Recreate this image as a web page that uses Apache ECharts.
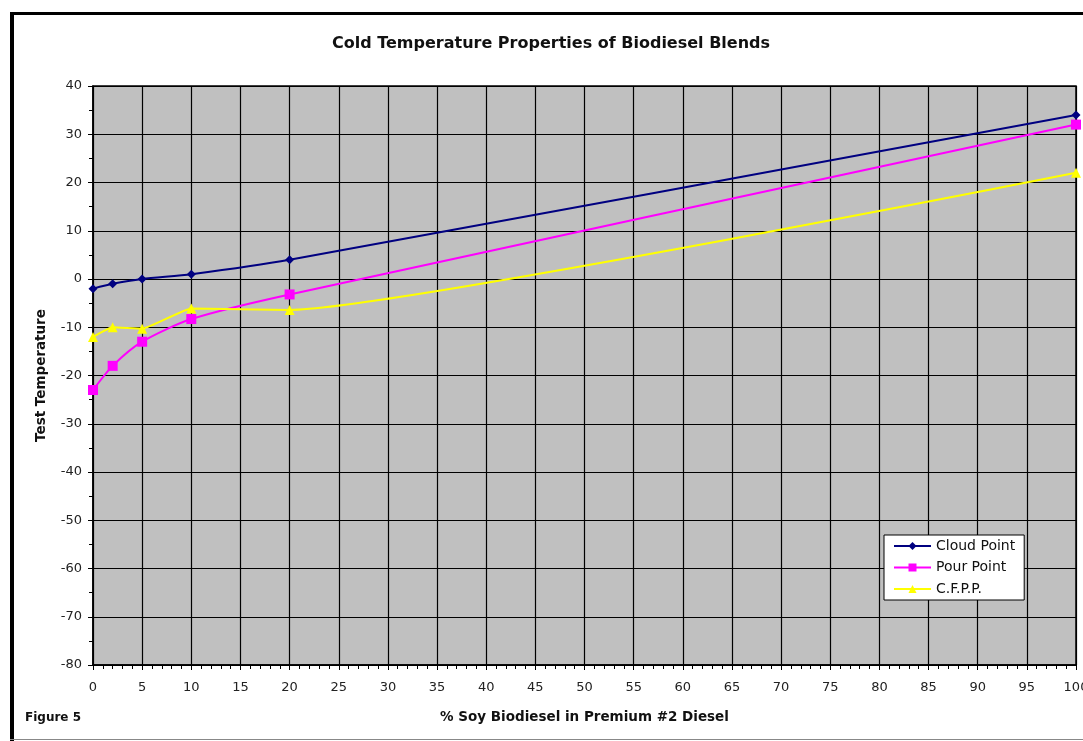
<!DOCTYPE html>
<html><head><meta charset="utf-8">
<script src="https://cdn.jsdelivr.net/npm/echarts@6/dist/echarts.min.js"></script>
<style>html,body{margin:0;padding:0;background:#fff;overflow:hidden}#c{width:1083px;height:741px}</style>
</head><body><div id="c"></div>
<script>
var xValues = [0, 2, 5, 10, 20, 100];
var cloudPoint = [-2, -1, 0, 1, 4, 34];
var pourPoint = [-23, -18, -13, -8.3, -3.2, 32];
var cfpp = [-12, -10, -10.3, -6.1, -6.4, 22];
var seriesNames = ['Cloud Point', 'Pour Point', 'C.F.P.P.'];
var titleText = 'Cold Temperature Properties of Biodiesel Blends';
var xName = '% Soy Biodiesel in Premium #2 Diesel';
var yName = 'Test Temperature';
var figureLabel = 'Figure 5';

function pairs(ys){ return xValues.map(function(x,i){ return [x, ys[i]]; }); }
var font = '"DejaVu Sans", Verdana, sans-serif';
var chart = echarts.init(document.getElementById('c'));
chart.setOption({
  animation: false,
  backgroundColor: '#fff',
  grid: { left: 93, right: 7, top: 86, bottom: 76, show: true, backgroundColor: '#c0c0c0',
    borderColor: '#000', borderWidth: 1.5, containLabel: false, outerBoundsMode: 'none' },
  legend: { orient: 'vertical', left: 884, top: 535, backgroundColor: '#fff', borderColor: '#000',
    borderWidth: 1, padding: [4, 9, 4, 9], itemGap: 7.5, itemWidth: 37, itemHeight: 10,
    textStyle: { fontFamily: font, fontSize: 14, lineHeight: 14, color: '#111' },
    data: seriesNames },
  xAxis: { type: 'value', min: 0, max: 100, interval: 5,
    name: xName, nameLocation: 'middle', nameGap: 45,
    nameTextStyle: { fontFamily: font, fontSize: 13.5, fontWeight: 'bold', color: '#111' },
    axisLine: { onZero: false, lineStyle: { color: '#000', width: 1.5 } },
    axisTick: { show: true, length: 5, lineStyle: { color: '#000' } },
    minorTick: { show: true, splitNumber: 5, length: 4, lineStyle: { color: '#000' } },
    axisLabel: { fontFamily: font, fontSize: 13, color: '#222', margin: 16 },
    splitLine: { show: true, lineStyle: { color: '#000', width: 1.2 } } },
  yAxis: { type: 'value', min: -80, max: 40, interval: 10,
    name: yName, nameLocation: 'middle', nameGap: 45, nameRotate: 90,
    nameTextStyle: { fontFamily: font, fontSize: 13.5, fontWeight: 'bold', color: '#111' },
    axisLine: { show: true, onZero: false, lineStyle: { color: '#000', width: 1.5 } },
    axisTick: { show: true, length: 5, lineStyle: { color: '#000' } },
    minorTick: { show: true, splitNumber: 2, length: 4, lineStyle: { color: '#000' } },
    axisLabel: { fontFamily: font, fontSize: 13, color: '#222', margin: 11 },
    splitLine: { show: true, lineStyle: { color: '#000', width: 1.2 } } },
  graphic: [
    { type: 'rect', shape: { x: 10, y: 12, width: 1090, height: 3 }, style: { fill: '#000' } },
    { type: 'rect', shape: { x: 10, y: 12, width: 4, height: 740 }, style: { fill: '#000' } },
    { type: 'rect', shape: { x: 10, y: 739, width: 1090, height: 1 }, style: { fill: '#888' } },
    { type: 'text', x: 551, y: 44, style: { text: titleText, font: 'bold 16px ' + font, fill: '#111',
      textAlign: 'center', textVerticalAlign: 'middle' } },
    { type: 'text', x: 25, y: 718, style: { text: figureLabel, font: 'bold 12px ' + font, fill: '#111',
      textVerticalAlign: 'middle' } }
  ],
  series: [
    { name: seriesNames[0], type: 'line', data: pairs(cloudPoint), smooth: 0.25,
      symbol: 'diamond', symbolSize: 9, lineStyle: { color: '#000080', width: 2 },
      itemStyle: { color: '#000080' } },
    { name: seriesNames[1], type: 'line', data: pairs(pourPoint), smooth: 0.25,
      symbol: 'rect', symbolSize: 10, lineStyle: { color: '#ff00ff', width: 2 },
      itemStyle: { color: '#ff00ff' } },
    { name: seriesNames[2], type: 'line', data: pairs(cfpp), smooth: 0.12,
      symbol: 'triangle', symbolSize: 10, lineStyle: { color: '#ffff00', width: 2 },
      itemStyle: { color: '#ffff00' } }
  ]
});
</script></body></html>
